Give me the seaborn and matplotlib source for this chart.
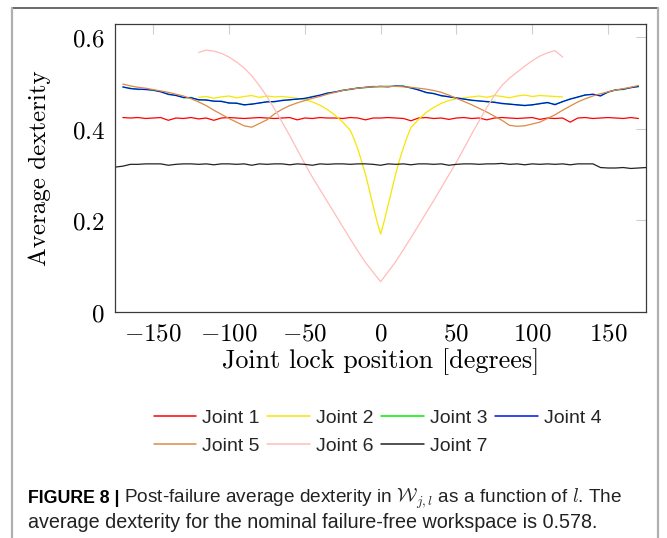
import matplotlib
matplotlib.use("Agg")
import matplotlib.pyplot as plt
from matplotlib.lines import Line2D
import pandas as pd
import seaborn as sns

# ---------------- data ----------------
angles_full = list(range(-170, 175, 5))      # joints 1,3,4,5
angles_j7 = list(range(-175, 180, 5))         # joint 7
angles_j2 = [-120, -115, -110, -105, -100, -95, -90, -85, -80, -75, -70, -65, -60,
             -55, -50, -45, -40, -35, -30, -25, -20, -17.5, -15, -12.5, -10, -7.5,
             -5, -2.5, 0, 2.5, 5, 7.5, 10, 12.5, 15, 17.5, 20, 25, 30, 35, 40, 45,
             50, 55, 60, 65, 70, 75, 80, 85, 90, 95, 100, 105, 110, 115, 120]
angles_j6 = list(range(-120, 125, 5))

joint1 = [0.424, 0.423, 0.424, 0.422, 0.423, 0.424, 0.418, 0.423, 0.422, 0.424,
          0.421, 0.423, 0.418, 0.423, 0.424, 0.423, 0.422, 0.423, 0.424, 0.423,
          0.422, 0.423, 0.424, 0.419, 0.423, 0.422, 0.424, 0.423, 0.423, 0.422,
          0.424, 0.423, 0.419, 0.423, 0.423, 0.424, 0.423, 0.422, 0.417, 0.423,
          0.424, 0.422, 0.423, 0.420, 0.423, 0.424, 0.422, 0.423, 0.419, 0.423,
          0.424, 0.423, 0.422, 0.423, 0.424, 0.420, 0.423, 0.422, 0.423, 0.414,
          0.423, 0.424, 0.422, 0.423, 0.424, 0.423, 0.422, 0.424, 0.422]

joint2 = [0.468, 0.470, 0.466, 0.469, 0.471, 0.467, 0.470, 0.472, 0.468, 0.471,
          0.469, 0.470, 0.468, 0.466, 0.463, 0.458, 0.451, 0.441, 0.429, 0.414,
          0.396, 0.377, 0.355, 0.328, 0.300, 0.267, 0.232, 0.199, 0.170, 0.200,
          0.234, 0.268, 0.302, 0.332, 0.358, 0.382, 0.402, 0.420, 0.435, 0.446,
          0.455, 0.461, 0.465, 0.467, 0.469, 0.471, 0.468, 0.472, 0.470, 0.467,
          0.471, 0.473, 0.470, 0.472, 0.471, 0.470, 0.469]

joint3 = [0.490, 0.488, 0.485, 0.486, 0.483, 0.481, 0.474, 0.473, 0.467, 0.468,
          0.462, 0.463, 0.459, 0.460, 0.455, 0.456, 0.451, 0.454, 0.455, 0.459,
          0.458, 0.462, 0.462, 0.465, 0.465, 0.470, 0.472, 0.478, 0.479, 0.484,
          0.485, 0.489, 0.489, 0.492, 0.491, 0.492, 0.492, 0.493, 0.488, 0.485,
          0.478, 0.477, 0.471, 0.470, 0.466, 0.465, 0.461, 0.461, 0.458, 0.458,
          0.454, 0.454, 0.451, 0.451, 0.451, 0.455, 0.456, 0.453, 0.458, 0.465,
          0.468, 0.474, 0.474, 0.472, 0.479, 0.485, 0.485, 0.490, 0.491]

joint4 = [0.491, 0.487, 0.486, 0.485, 0.484, 0.480, 0.475, 0.472, 0.468, 0.467,
          0.463, 0.462, 0.460, 0.459, 0.456, 0.455, 0.452, 0.453, 0.456, 0.458,
          0.459, 0.461, 0.463, 0.464, 0.466, 0.469, 0.473, 0.477, 0.480, 0.483,
          0.486, 0.488, 0.490, 0.491, 0.492, 0.491, 0.493, 0.492, 0.489, 0.484,
          0.479, 0.476, 0.472, 0.469, 0.467, 0.464, 0.462, 0.460, 0.459, 0.457,
          0.455, 0.453, 0.452, 0.450, 0.452, 0.454, 0.457, 0.452, 0.459, 0.464,
          0.469, 0.473, 0.475, 0.471, 0.480, 0.484, 0.486, 0.489, 0.492]

joint5 = [0.497, 0.493, 0.490, 0.488, 0.485, 0.482, 0.479, 0.475, 0.471, 0.465,
          0.458, 0.450, 0.440, 0.431, 0.422, 0.414, 0.406, 0.403, 0.411, 0.419,
          0.432, 0.442, 0.450, 0.456, 0.461, 0.466, 0.470, 0.475, 0.479, 0.483,
          0.486, 0.488, 0.490, 0.491, 0.492, 0.492, 0.492, 0.491, 0.490, 0.488,
          0.486, 0.483, 0.479, 0.473, 0.466, 0.459, 0.452, 0.444, 0.436, 0.427,
          0.418, 0.407, 0.405, 0.406, 0.410, 0.414, 0.422, 0.430, 0.440, 0.449,
          0.458, 0.465, 0.471, 0.476, 0.480, 0.484, 0.487, 0.490, 0.494]

joint6 = [0.566, 0.571, 0.569, 0.564, 0.556, 0.545, 0.532, 0.515, 0.494, 0.470,
          0.443, 0.414, 0.385, 0.354, 0.323, 0.294, 0.267, 0.240, 0.213, 0.186,
          0.159, 0.133, 0.108, 0.087, 0.066, 0.088, 0.110, 0.136, 0.162, 0.189,
          0.216, 0.243, 0.271, 0.299, 0.327, 0.357, 0.388, 0.417, 0.446, 0.472,
          0.494, 0.510, 0.523, 0.536, 0.548, 0.558, 0.565, 0.570, 0.556]

joint7 = [0.316, 0.318, 0.322, 0.322, 0.323, 0.323, 0.323, 0.320, 0.322, 0.323,
          0.323, 0.322, 0.323, 0.321, 0.323, 0.323, 0.322, 0.323, 0.320, 0.323,
          0.322, 0.323, 0.323, 0.321, 0.323, 0.322, 0.320, 0.323, 0.322, 0.323,
          0.323, 0.322, 0.323, 0.323, 0.322, 0.320, 0.323, 0.322, 0.323, 0.321,
          0.323, 0.323, 0.322, 0.323, 0.320, 0.322, 0.323, 0.323, 0.322, 0.323,
          0.323, 0.324, 0.322, 0.323, 0.321, 0.323, 0.322, 0.323, 0.322, 0.323,
          0.321, 0.323, 0.323, 0.323, 0.315, 0.314, 0.314, 0.315, 0.313, 0.314,
          0.315]

joint_names = ["Joint 1", "Joint 2", "Joint 3", "Joint 4", "Joint 5", "Joint 6", "Joint 7"]
joint_colors = ["#ff0000", "#f7e600", "#00ee00", "#0010f0", "#dc8a45", "#ffbcbc", "#222222"]

x_ticks = [-150, -100, -50, 0, 50, 100, 150]
y_ticks = [0, 0.2, 0.4, 0.6]
y_tick_labels = ["0", "0.2", "0.4", "0.6"]

series = [(angles_full, joint1), (angles_j2, joint2), (angles_full, joint3),
          (angles_full, joint4), (angles_full, joint5), (angles_j6, joint6),
          (angles_j7, joint7)]

frames = []
for name, (xs, ys) in zip(joint_names, series):
    frames.append(pd.DataFrame({"angle": xs, "dexterity": ys, "joint": name}))
df = pd.concat(frames, ignore_index=True)

# ---------------- styling ----------------
sns.set_theme(style="white")
plt.rcParams["font.family"] = ["DejaVu Sans"]
plt.rcParams["mathtext.fontset"] = "cm"

W, H = 667, 538
fig = plt.figure(figsize=(W / 100, H / 100), dpi=100)
ax = fig.add_axes([114.5 / W, 1 - 312 / H, 531.5 / W, 288 / H])

for name, color in zip(joint_names, joint_colors):
    sns.lineplot(data=df[df["joint"] == name], x="angle", y="dexterity",
                 color=color, lw=0.9, estimator=None, sort=False,
                 legend=False, ax=ax)

ax.set_xlim(-175.5, 175)
ax.set_ylim(0, 0.628)
ax.set_xticks(x_ticks)
ax.set_xticklabels([f"${t}$" for t in x_ticks])
ax.set_yticks(y_ticks)
ax.set_yticklabels([f"${t}$" for t in y_tick_labels])
ax.tick_params(direction="in", length=7, width=0.8, color="#cfcfcf",
               top=True, right=True, labelsize=18, pad=7, labelcolor="black")
for sp in ax.spines.values():
    sp.set_color("#3a3a3a")
    sp.set_linewidth(0.9)
ax.grid(False)

ax.set_xlabel("Joint lock position [degrees]", family="cmr10", fontsize=18.8, color="black")
ax.set_ylabel("Average dexterity", family="cmr10", fontsize=18, color="black")
ax.xaxis.set_label_coords(0.5, -0.126)
ax.yaxis.set_label_coords(-0.1195, 0.5)

# legend (row-major order for 4 columns)
handles = [Line2D([], [], color=c, lw=1.1) for c in joint_colors]
order = [0, 4, 1, 5, 2, 6, 3]
fig.legend([handles[i] for i in order], [joint_names[i] for i in order],
           ncol=4, loc="upper left", bbox_to_anchor=(153.6 / W, 1 - 409 / H),
           frameon=False, prop={"family": "Liberation Sans", "size": 14},
           handlelength=2.2, handletextpad=0.3, columnspacing=0.4,
           labelspacing=0.56, borderpad=0, borderaxespad=0)

# page frame lines
fig.add_artist(Line2D([12 / W, 658 / W], [1 - 8 / H, 1 - 8 / H],
                      transform=fig.transFigure, color="#505050", lw=1.2))
fig.add_artist(Line2D([12 / W, 12 / W], [0, 1 - 8 / H],
                      transform=fig.transFigure, color="#b0b0b0", lw=1.6))
fig.add_artist(Line2D([658 / W, 658 / W], [0, 1 - 8 / H],
                      transform=fig.transFigure, color="#b0b0b0", lw=1.6))

# caption
cap_font = "Liberation Sans"
renderer = fig.canvas.get_renderer()
line2 = "average dexterity for the nominal failure-free workspace is 0.578."
line1_rest = r"Post-failure average dexterity in $\mathcal{W}_{j,l}$ as a function of $l$. The"
probe = fig.text(0, 0, line2, family=cap_font, size=10)
w = probe.get_window_extent(renderer).width
probe.remove()
cs = 10 * 570 / w

x0 = 28 / W
t1 = fig.text(x0, 1 - 503 / H, "FIGURE 8 |", family=cap_font, weight="bold",
              size=cs * 0.9, va="baseline", color="black")
bb = t1.get_window_extent(renderer)
t2 = fig.text((bb.x1 + 4) / W, 1 - 503 / H, line1_rest,
              family=cap_font, size=cs, va="baseline", color="#222222")
bb2 = t2.get_window_extent(renderer)
t2.set_fontsize(cs * (622 - bb.x1 - 4) / bb2.width)
fig.text(x0, 1 - 528 / H, line2, family=cap_font, size=cs, va="baseline", color="#222222")

fig.savefig("out.png", dpi=100)
